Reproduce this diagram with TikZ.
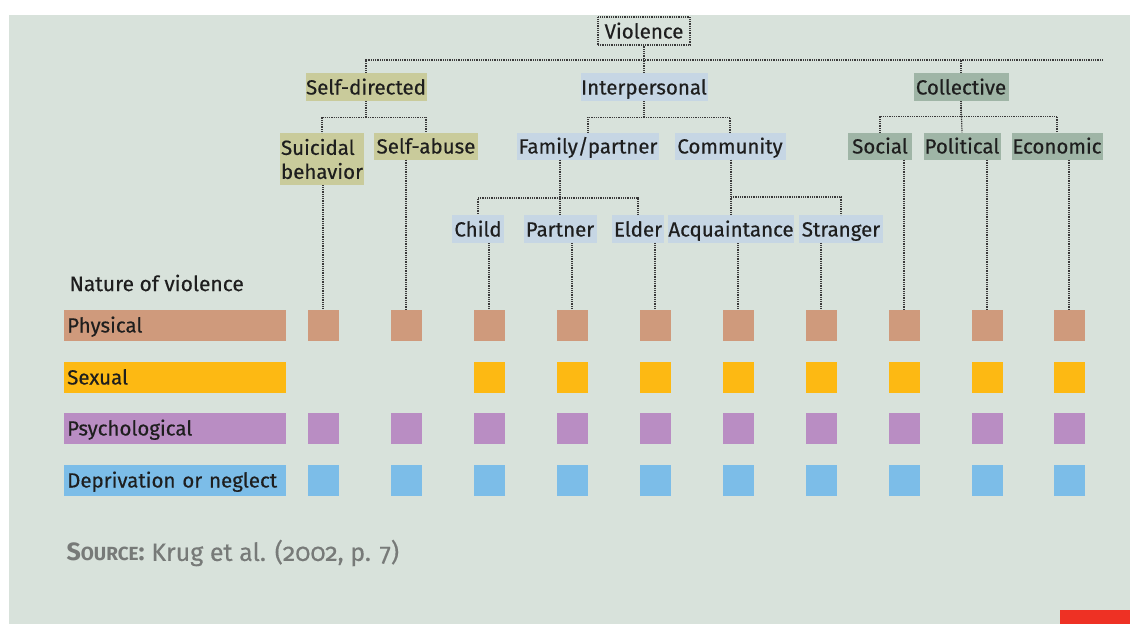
\documentclass[tikz,border=0pt]{standalone}
\usepackage{fontspec}
\setmainfont{Fira Sans}[UprightFeatures={FakeBold=0.4}]
\definecolor{bgc}{HTML}{D8E2DB}
\definecolor{textc}{HTML}{1E1E1E}
\definecolor{linec}{HTML}{3A3A3A}
\definecolor{selfc}{HTML}{C9CB9B}
\definecolor{intc}{HTML}{C6D6E4}
\definecolor{collc}{HTML}{9FB5A6}
\definecolor{physc}{HTML}{CF9A7C}
\definecolor{sexc}{HTML}{FDB913}
\definecolor{psyc}{HTML}{B98DC3}
\definecolor{depc}{HTML}{7CBDE8}
\definecolor{srcc}{HTML}{777A78}
\definecolor{redc}{HTML}{EE3124}
\begin{document}
\begin{tikzpicture}[
		x=1pt, y=-1pt,
		font=\fontsize{20.5}{24}\selectfont,
		text=textc
	]
	\tikzset{
		catnode/.style = {inner sep=0pt, minimum height=28pt, text height=17pt, text depth=2pt},
		rootnode/.style = {catnode, draw=linec, line width=1.2pt, dash pattern=on 1pt off 0.8pt},
		selfn/.style = {catnode, fill=selfc},
		intn/.style = {catnode, fill=intc},
		colln/.style = {catnode, fill=collc},
		conn/.style = {draw=linec, line width=1.2pt, dash pattern=on 1pt off 0.8pt},
		sq/.style = {minimum size=31pt, inner sep=0pt},
		bar/.style = {anchor=west, minimum height=31pt, text width=216pt, inner xsep=3pt, inner ysep=0pt, align=left, text height=17pt, text depth=2pt},
	}
	\useasboundingbox (0,0) rectangle (1130,624);
	\fill[white] (0,0) rectangle (1130,624);
	\fill[bgc] (9,15) rectangle (1130,624);
	\fill[redc] (1060,610) rectangle (1130,624);
	%
	\node[rootnode, minimum width=92pt] at (644,31) (violence) {Violence};
	%
	\node[selfn, minimum width=121pt] at (366,87) (selfdir) {Self-directed};
	\node[intn, minimum width=127pt] at (644,87) (interp) {Interpersonal};
	\node[colln, minimum width=95pt] at (961,87) (coll) {Collective};
	%
	\node[selfn, minimum width=84pt, minimum height=52pt, text height=, text depth=, align=left] at (322,159) (suicidal) {Suicidal\\behavior};
	\node[selfn, minimum width=104pt, minimum height=27pt] at (426,146) (selfabuse) {Self-abuse};
	\node[intn, minimum width=142pt, minimum height=27pt] at (588,146) (family) {Family/partner};
	\node[intn, minimum width=111pt, minimum height=27pt] at (730,146) (community) {Community};
	\node[colln, minimum width=64pt, minimum height=27pt] at (880,146) (social) {Social};
	\node[colln, minimum width=77pt, minimum height=27pt] at (962,146) (political) {Political};
	\node[colln, minimum width=91pt, minimum height=27pt] at (1057,146) (economic) {Economic};
	%
	\node[intn, minimum width=52pt] at (478,229) (child) {Child};
	\node[intn, minimum width=73pt] at (560,229) (partner) {Partner};
	\node[intn, minimum width=52pt] at (638,229) (elder) {Elder};
	\node[intn, minimum width=126pt] at (731,229) (acq) {Acquaintance};
	\node[intn, minimum width=84pt] at (841,229) (stranger) {Stranger};
	%
	\node[anchor=west, font=\fontsize{21}{24}\selectfont] at (66,283) (nature) {Nature of violence};
	\node[bar, fill=physc] at (64,325) (physl) {Physical};
	\node[bar, fill=sexc] at (64,377) (sexl) {Sexual};
	\node[bar, fill=psyc] at (64,428) (psyl) {Psychological};
	\node[bar, fill=depc] at (64,480) (depl) {Deprivation or neglect};
	%
	\foreach \i/\x in {1/323,2/406,3/489,4/572,5/655,6/738,7/821,8/904,9/987,10/1069} {
		\node[sq, fill=physc] at (\x,325) (phys\i) {};
		\node[sq, fill=psyc] at (\x,428) (psy\i) {};
		\node[sq, fill=depc] at (\x,480) (dep\i) {};
	}
	\foreach \i/\x in {3/489,4/572,5/655,6/738,7/821,8/904,9/987,10/1069} {
		\node[sq, fill=sexc] at (\x,377) (sex\i) {};
	}
	%
	\node[anchor=west, text=srcc, font=\fontsize{25}{28}\selectfont] at (63,553) (source) {{\bfseries S{\fontsize{19}{22}\selectfont OURCE}:} Krug et al. ({\addfontfeatures{Numbers=OldStyle}2002}, p. {\addfontfeatures{Numbers=OldStyle}7})};
	%
	\coordinate (topmid) at (644,60);
	\coordinate (topend) at (1103,60);
	\draw[conn] (violence) -- (topmid);
	\draw[conn] (selfdir.north) |- (topend);
	\draw[conn] (interp.north) -- (topmid);
	\draw[conn] (coll.north) -- (coll.north |- topmid);
	%
	\draw[conn] (selfdir.south) -- ++(0,16) -| (suicidal.north);
	\draw[conn] (selfdir.south) -- ++(0,16) -| (selfabuse.north);
	\draw[conn] (interp.south) -- ++(0,16) -| (family.north);
	\draw[conn] (interp.south) -- ++(0,16) -| (community.north);
	\draw[conn] (coll.south) -- ++(0,15) -| (social.north);
	\draw[conn] (coll.south) -- (political.north);
	\draw[conn] (coll.south) -- ++(0,15) -| (economic.north);
	%
	\coordinate (famjoin) at (560,198);
	\coordinate (comjoin) at (731,197);
	\draw[conn] (family.south -| partner.north) -- (partner.north);
	\draw[conn] (famjoin) -| (child.north);
	\draw[conn] (famjoin) -| (elder.north);
	\draw[conn] (community.south -| acq.north) -- (acq.north);
	\draw[conn] (comjoin) -| (stranger.north);
	%
	\draw[conn] (suicidal.south -| phys1.north) -- (phys1.north);
	\draw[conn] (selfabuse.south -| phys2.north) -- (phys2.north);
	\draw[conn] (child.south -| phys3.north) -- (phys3.north);
	\draw[conn] (partner.south -| phys4.north) -- (phys4.north);
	\draw[conn] (elder.south -| phys5.north) -- (phys5.north);
	\draw[conn] (acq.south -| phys6.north) -- (phys6.north);
	\draw[conn] (stranger.south -| phys7.north) -- (phys7.north);
	\draw[conn] (social.south -| phys8.north) -- (phys8.north);
	\draw[conn] (political.south -| phys9.north) -- (phys9.north);
	\draw[conn] (economic.south -| phys10.north) -- (phys10.north);
\end{tikzpicture}
\end{document}
